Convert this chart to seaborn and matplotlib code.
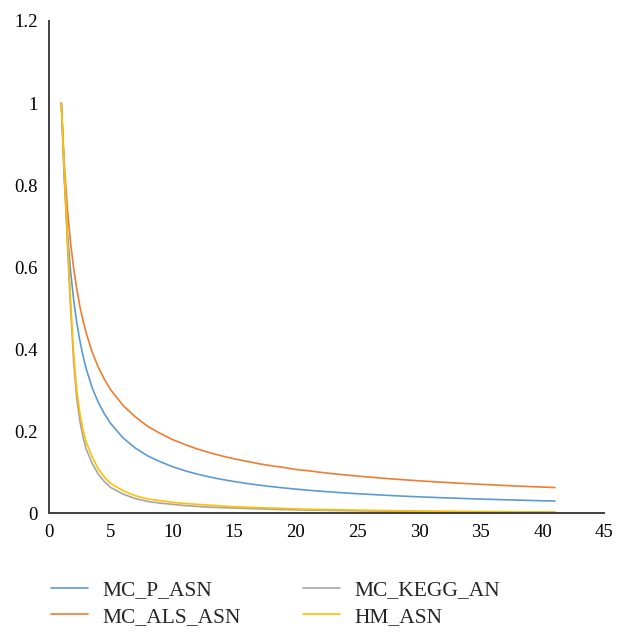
import numpy as np
import pandas as pd
import matplotlib
matplotlib.use("Agg")
import matplotlib.pyplot as plt
import seaborn as sns

# ---- data ----
x_vals = [1, 1.25, 1.5, 1.75, 2, 2.25, 2.5, 2.75, 3, 3.5, 4, 4.5, 5,
          6, 7, 8, 9, 10, 11, 12, 13, 14, 15, 16, 17, 18, 19, 20,
          21, 22, 23, 24, 25, 26, 27, 28, 29, 30, 31, 32, 33, 34, 35,
          36, 37, 38, 39, 40, 41]

mc_p_asn = [1.0, 0.810, 0.682, 0.590, 0.520, 0.465, 0.421, 0.385, 0.354, 0.306, 0.270, 0.242, 0.219,
            0.184, 0.159, 0.140, 0.126, 0.114, 0.104, 0.0958, 0.0888, 0.0828, 0.0776, 0.0730, 0.0689,
            0.0653, 0.0621, 0.0591, 0.0565, 0.0540, 0.0518, 0.0498, 0.0479, 0.0462, 0.0446, 0.0430,
            0.0416, 0.0403, 0.0391, 0.0379, 0.0369, 0.0358, 0.0349, 0.0340, 0.0331, 0.0323, 0.0315,
            0.0307, 0.0300]

mc_als_asn = [1.0, 0.847, 0.739, 0.659, 0.597, 0.547, 0.505, 0.471, 0.441, 0.393, 0.356, 0.326, 0.301,
              0.263, 0.235, 0.212, 0.195, 0.180, 0.168, 0.157, 0.148, 0.140, 0.133, 0.127, 0.121,
              0.116, 0.112, 0.107, 0.104, 0.100, 0.0967, 0.0937, 0.0909, 0.0883, 0.0858, 0.0835,
              0.0814, 0.0793, 0.0774, 0.0756, 0.0739, 0.0723, 0.0708, 0.0693, 0.0679, 0.0665, 0.0653,
              0.0640, 0.0629]

mc_kegg_an = [1.0, 0.82, 0.65, 0.50, 0.37, 0.28, 0.225, 0.187, 0.158, 0.122, 0.095, 0.077, 0.063,
              0.047, 0.036, 0.029, 0.025, 0.022, 0.019, 0.017, 0.015, 0.014, 0.013, 0.012, 0.011,
              0.010, 0.0093, 0.0086, 0.0080, 0.0075, 0.0070, 0.0066, 0.0062, 0.0058, 0.0055, 0.0052,
              0.0049, 0.0046, 0.0044, 0.0042, 0.0040, 0.0038, 0.0036, 0.0034, 0.0033, 0.0031, 0.0030,
              0.0029, 0.0028]

hm_asn = [1.0, 0.83, 0.67, 0.52, 0.39, 0.30, 0.245, 0.205, 0.175, 0.138, 0.108, 0.088, 0.073,
          0.055, 0.043, 0.035, 0.031, 0.027, 0.024, 0.022, 0.020, 0.018, 0.016, 0.015, 0.014,
          0.013, 0.012, 0.011, 0.010, 0.0095, 0.0090, 0.0085, 0.0080, 0.0075, 0.0070, 0.0066,
          0.0062, 0.0058, 0.0055, 0.0052, 0.0049, 0.0046, 0.0044, 0.0042, 0.0040, 0.0038, 0.0036,
          0.0035, 0.0033]

series_names = ["MC_P_ASN", "MC_ALS_ASN", "MC_KEGG_AN", "HM_ASN"]
colors = ["#5B9BD5", "#ED7D31", "#A5A5A5", "#FFC000"]
x_ticks = [0, 5, 10, 15, 20, 25, 30, 35, 40, 45]
y_ticks = [0, 0.2, 0.4, 0.6, 0.8, 1.0, 1.2]
y_tick_labels = ["0", "0.2", "0.4", "0.6", "0.8", "1", "1.2"]

frames = []
for name, vals in zip(series_names, [mc_p_asn, mc_als_asn, mc_kegg_an, hm_asn]):
    frames.append(pd.DataFrame({"x": x_vals, "y": vals, "series": name}))
df = pd.concat(frames, ignore_index=True)

# ---- style ----
sns.set_style("white")
plt.rcParams["font.family"] = ["Liberation Serif", "DejaVu Serif"]

fig = plt.figure(figsize=(6.24, 6.39), dpi=100)
ax = fig.add_axes([0.0785, 0.1966, 0.890, 0.7706])

sns.lineplot(data=df, x="x", y="y", hue="series", hue_order=series_names,
             palette=colors, linewidth=1.2, ax=ax, legend=False, sort=True,
             estimator=None)

ax.set_xlim(0, 45)
ax.set_ylim(0, 1.2)
ax.set_xticks(x_ticks)
ax.set_xticklabels([str(t) for t in x_ticks])
ax.set_yticks(y_ticks)
ax.set_yticklabels(y_tick_labels)
ax.set_xlabel("")
ax.set_ylabel("")
ax.tick_params(axis="both", length=0, labelsize=13.5, colors="#000000")
ax.tick_params(axis="y", pad=8)
ax.tick_params(axis="x", pad=8)

for side in ["top", "right"]:
    ax.spines[side].set_visible(False)
for side in ["left", "bottom"]:
    ax.spines[side].set_color("#404040")
    ax.spines[side].set_linewidth(1.4)

handles = [plt.Line2D([], [], color=c, linewidth=1.2) for c in colors]
fig.legend(handles, series_names, loc="upper left",
           bbox_to_anchor=(0.082, 0.092), ncol=2, frameon=False,
           fontsize=15.5, handlelength=1.72, handletextpad=0.65,
           columnspacing=2.9, labelspacing=0.3, borderpad=0, borderaxespad=0)

fig.savefig("out.png", dpi=100, facecolor="white")
